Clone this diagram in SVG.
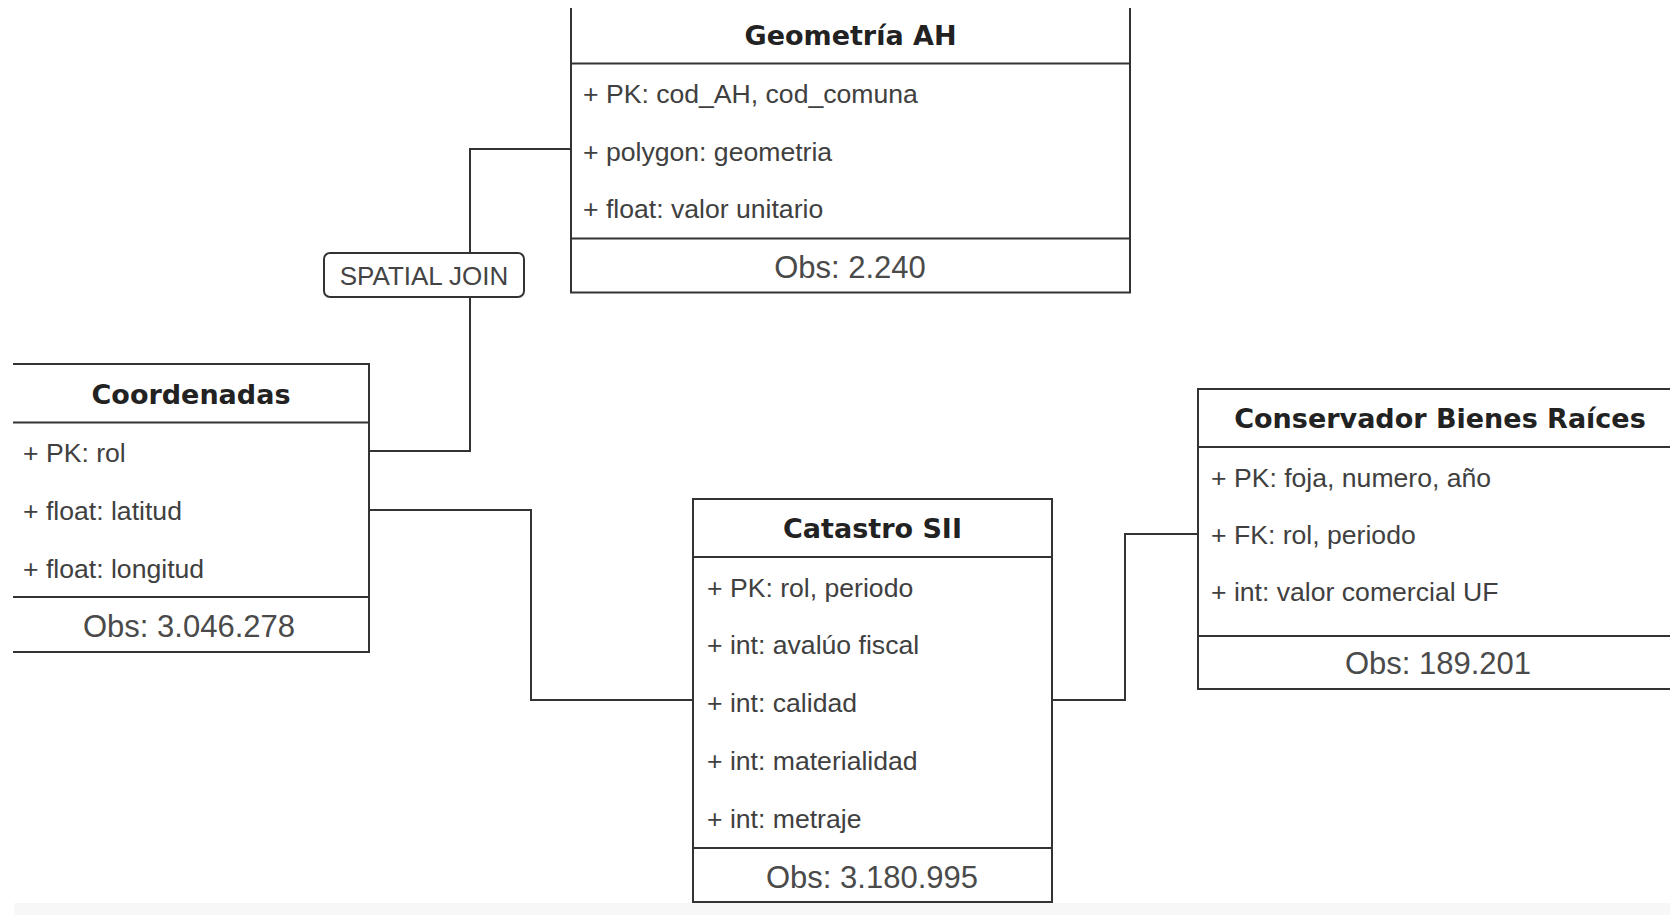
<svg xmlns="http://www.w3.org/2000/svg" width="1670" height="915" viewBox="0 0 1670 915">
<style>
.bg{fill:#ffffff}
.box{fill:none;stroke:#333;stroke-width:2}
.fillw{fill:#ffffff}
.conn{fill:none;stroke:#333;stroke-width:2}
.title{font-family:"DejaVu Sans",Verdana,sans-serif;font-weight:bold;font-size:27px;fill:#222;text-anchor:middle}
.row{font-family:"Liberation Sans",Arial,sans-serif;font-size:26.6px;fill:#404040}
.obs{font-family:"Liberation Sans",Arial,sans-serif;font-size:31px;fill:#4a4a4a;text-anchor:middle}
.lbl{font-family:"Liberation Sans",Arial,sans-serif;font-size:26px;fill:#444;text-anchor:middle}
</style>
<rect class="bg" x="0" y="0" width="1670" height="915"/>
<rect x="14" y="903" width="1656" height="12" fill="#f7f7f7"/>

<g id="connectors">
  <path class="conn" d="M571,149 H470 V451 H369"/>
  <path class="conn" d="M369,510 H531 V700 H693"/>
  <path class="conn" d="M1052,700 H1125 V534 H1198"/>
  <g id="spatial-join-label">
    <rect x="324" y="253" width="200" height="44" rx="6" ry="6" fill="#ffffff" stroke="#333" stroke-width="2"/>
    <text class="lbl" x="424" y="285">SPATIAL JOIN</text>
  </g>
</g>

<g id="geometria-ah">
  <rect class="fillw" x="571" y="8" width="559" height="285"/>
  <path class="box" d="M571,8 V292.5 H1130 V8 M571,63.5 H1130 M571,238.5 H1130"/>
  <text class="title" x="850.5" y="45">Geometría AH</text>
  <text class="row" x="583" y="103">+ PK: cod_AH, cod_comuna</text>
  <text class="row" x="583" y="160.5">+ polygon: geometria</text>
  <text class="row" x="583" y="218">+ float: valor unitario</text>
  <text class="obs" x="850" y="278">Obs: 2.240</text>
</g>

<g id="coordenadas">
  <rect class="fillw" x="13" y="364" width="356" height="288"/>
  <path class="box" d="M13,364 H369 V652 H13 M13,422.5 H369 M13,597 H369"/>
  <text class="title" x="191" y="404">Coordenadas</text>
  <text class="row" x="23" y="462">+ PK: rol</text>
  <text class="row" x="23" y="520">+ float: latitud</text>
  <text class="row" x="23" y="577.5">+ float: longitud</text>
  <text class="obs" x="189" y="637">Obs: 3.046.278</text>
</g>

<g id="catastro-sii">
  <rect class="fillw" x="693" y="499" width="359" height="403"/>
  <path class="box" d="M693,499 H1052 V902 H693 Z M693,557 H1052 M693,848 H1052"/>
  <text class="title" x="872.5" y="538">Catastro SII</text>
  <text class="row" x="707" y="596.5">+ PK: rol, periodo</text>
  <text class="row" x="707" y="654">+ int: avalúo fiscal</text>
  <text class="row" x="707" y="712">+ int: calidad</text>
  <text class="row" x="707" y="770">+ int: materialidad</text>
  <text class="row" x="707" y="827.5">+ int: metraje</text>
  <text class="obs" x="872" y="888">Obs: 3.180.995</text>
</g>

<g id="conservador-bienes-raices">
  <rect class="fillw" x="1198" y="389" width="472" height="300"/>
  <path class="box" d="M1670,389 H1198 V689 H1670 M1198,447 H1670 M1198,636 H1670"/>
  <text class="title" x="1440" y="428">Conservador Bienes Raíces</text>
  <text class="row" x="1211" y="487">+ PK: foja, numero, año</text>
  <text class="row" x="1211" y="544">+ FK: rol, periodo</text>
  <text class="row" x="1211" y="601">+ int: valor comercial UF</text>
  <text class="obs" x="1438" y="674">Obs: 189.201</text>
</g>
</svg>
